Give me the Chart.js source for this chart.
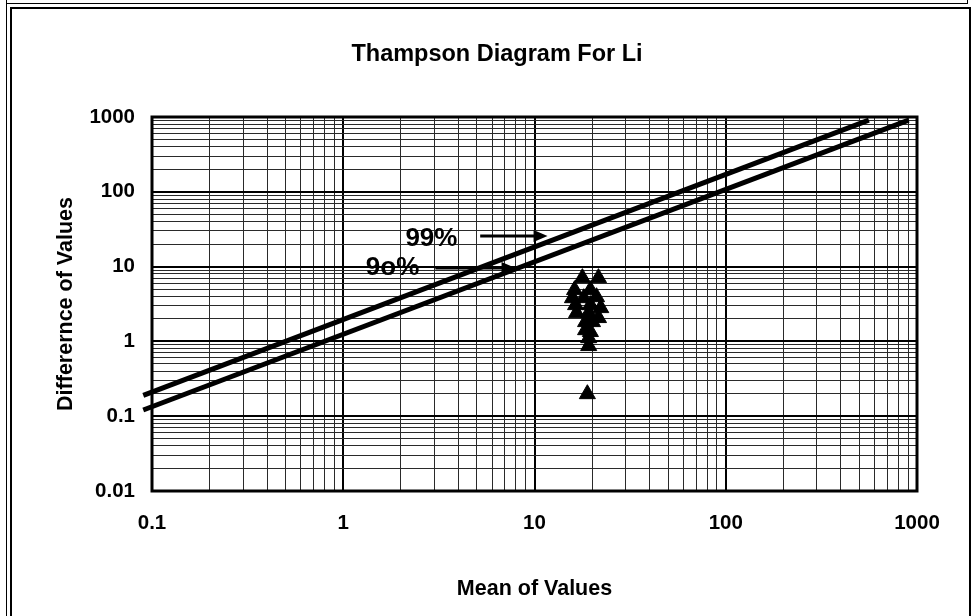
<!DOCTYPE html>
<html><head><meta charset="utf-8">
<script src="https://cdn.jsdelivr.net/npm/chart.js@4.4.0/dist/chart.umd.min.js"></script>
<style>html,body{margin:0;padding:0;background:#fff;overflow:hidden}canvas{display:block}</style>
</head><body>
<canvas id="c" width="973" height="616"></canvas>
<script>
const chartTitle = 'Thampson Diagram For Li';
const xAxisTitle = 'Mean of Values';
const yAxisTitle = 'Differernce of Values';
const xTickValues = [0.1, 1, 10, 100, 1000];
const xTickLabels = ['0.1', '1', '10', '100', '1000'];
const yTickValues = [0.01, 0.1, 1, 10, 100, 1000];
const yTickLabels = ['0.01', '0.1', '1', '10', '100', '1000'];

// duplicate pairs: mean vs difference
const meanValues = [17.8, 21.6, 16.2, 19.6, 15.8, 18.1, 21.1, 16.4, 19.6, 22.2, 16.6, 19.2, 21.6, 18.5, 20.1, 18.5, 19.6, 19.2, 19.2, 18.9];
const diffValues = [7.05, 7.05, 4.87, 4.87, 3.80, 3.80, 3.92, 3.07, 3.07, 2.80, 2.40, 2.40, 2.06, 1.82, 1.82, 1.42, 1.34, 1.11, 0.87, 0.198];

// control lines
const line99Mean = [0.09, 560];
const line99Diff = [0.19, 910];
const line90Mean = [0.09, 905];
const line90Diff = [0.121, 910];

// annotations (data coordinates)
const label99 = '99%';
const label90 = '9o%';
const label99At = [2.89, 23.4];
const label90At = [1.81, 9.6];
const arrow99 = [5.2, 11.7, 25.6];   // from x, to x, at y
const arrow90 = [3.03, 7.96, 9.57];

const FONT = "'Liberation Sans', Arial, sans-serif";
const isDecade = v => Math.abs(Math.log10(v) - Math.round(Math.log10(v))) < 1e-6;
function gridFrom(decades) {
  const out = [];
  for (let i = 0; i < decades.length - 1; i++) for (let k = 1; k <= 9; k++) out.push(decades[i] * k);
  out.push(decades[decades.length - 1]);
  return out;
}
function labelFor(vals, labels, v) {
  const i = vals.findIndex(t => Math.abs(t - v) / t < 1e-6);
  return i >= 0 ? labels[i] : '';
}
const xy = (xs, ys) => xs.map((x, i) => ({x, y: ys[i]}));

const framePlugin = {
  id: 'frame',
  beforeDraw(chart) {
    const c = chart.ctx;
    c.save();
    c.fillStyle = '#fff';
    c.fillRect(0, 0, chart.width, chart.height);
    c.strokeStyle = '#000';
    c.lineWidth = 1;
    c.beginPath();
    c.moveTo(6.5, 0); c.lineTo(6.5, 616);
    c.moveTo(6, 3.5); c.lineTo(968, 3.5);
    c.moveTo(967.5, 0); c.lineTo(967.5, 4);
    c.stroke();
    c.lineWidth = 2;
    c.strokeRect(11, 8, 959, 640);
    c.restore();
  },
  afterDraw(chart) {
    const c = chart.ctx, a = chart.chartArea;
    c.save();
    c.strokeStyle = '#000';
    c.lineWidth = 3;
    c.strokeRect(a.left, a.top, a.right - a.left, a.bottom - a.top);
    c.fillStyle = '#000';
    c.font = 'bold 23.5px ' + FONT;
    c.textAlign = 'center';
    c.textBaseline = 'middle';
    c.fillText(chartTitle, 497, 55);
    c.restore();
  },
  afterDatasetsDraw(chart) {
    const c = chart.ctx, xs = chart.scales.x, ys = chart.scales.y;
    c.save();
    c.fillStyle = '#000';
    c.strokeStyle = '#000';
    c.font = 'bold 26px ' + FONT;
    c.textAlign = 'center';
    c.textBaseline = 'middle';
    c.fillText(label99, xs.getPixelForValue(label99At[0]), ys.getPixelForValue(label99At[1]));
    c.fillText(label90, xs.getPixelForValue(label90At[0]), ys.getPixelForValue(label90At[1]));
    [arrow99, arrow90].forEach(a => {
      const x0 = xs.getPixelForValue(a[0]), x1 = xs.getPixelForValue(a[1]), y = Math.round(ys.getPixelForValue(a[2]));
      c.lineWidth = 3;
      c.beginPath(); c.moveTo(x0, y); c.lineTo(x1 - 10, y); c.stroke();
      c.beginPath(); c.moveTo(x1, y); c.lineTo(x1 - 14, y - 6); c.lineTo(x1 - 14, y + 6); c.closePath(); c.fill();
    });
    c.restore();
  }
};

const gridOpts = {
  drawTicks: false,
  color: ctx => (ctx.tick && isDecade(ctx.tick.value)) ? '#000' : '#2a2a2a',
  lineWidth: ctx => (ctx.tick && isDecade(ctx.tick.value)) ? 2 : 1
};

new Chart(document.getElementById('c'), {
  type: 'scatter',
  data: {
    datasets: [
      { type: 'line', data: xy(line99Mean, line99Diff), borderColor: '#000', borderWidth: 5, pointRadius: 0, fill: false, borderCapStyle: 'butt', clip: {left: 12, top: 0, right: 0, bottom: 0} },
      { type: 'line', data: xy(line90Mean, line90Diff), borderColor: '#000', borderWidth: 5, pointRadius: 0, fill: false, borderCapStyle: 'butt', clip: {left: 12, top: 0, right: 0, bottom: 0} },
      { data: xy(meanValues, diffValues), pointStyle: 'triangle', pointRadius: 9.3, pointHoverRadius: 9.3, backgroundColor: '#000', borderColor: '#000', borderWidth: 1 }
    ]
  },
  options: {
    responsive: false,
    animation: false,
    devicePixelRatio: 1,
    layout: { padding: { top: 117, right: 56, bottom: 0, left: 0 } },
    plugins: { legend: { display: false }, tooltip: { enabled: false }, title: { display: false } },
    scales: {
      x: {
        type: 'logarithmic', min: 0.1, max: 1000,
        afterBuildTicks: s => { s.ticks = gridFrom(xTickValues).map(v => ({value: v})); },
        afterFit: s => { s.height = 125; },
        grid: gridOpts,
        border: { display: false },
        ticks: { autoSkip: false, maxRotation: 0, padding: 20, color: '#000', font: { family: FONT, size: 20.5, weight: 'bold' },
          callback: v => labelFor(xTickValues, xTickLabels, v) },
        title: { display: true, text: xAxisTitle, color: '#000', padding: { top: 0, bottom: 14 }, font: { family: FONT, size: 21.5, weight: 'bold' } }
      },
      y: {
        type: 'logarithmic', min: 0.01, max: 1000,
        afterBuildTicks: s => { s.ticks = gridFrom(yTickValues).map(v => ({value: v})); },
        afterFit: s => { s.width = 152; },
        grid: gridOpts,
        border: { display: false },
        ticks: { autoSkip: false, padding: 17, color: '#000', font: { family: FONT, size: 20.5, weight: 'bold' },
          callback: v => labelFor(yTickValues, yTickLabels, v) },
        title: { display: true, text: yAxisTitle, color: '#000', padding: { top: 53, bottom: 0 }, font: { family: FONT, size: 21.5, weight: 'bold' } }
      }
    }
  },
  plugins: [framePlugin]
});
</script>
</body></html>
